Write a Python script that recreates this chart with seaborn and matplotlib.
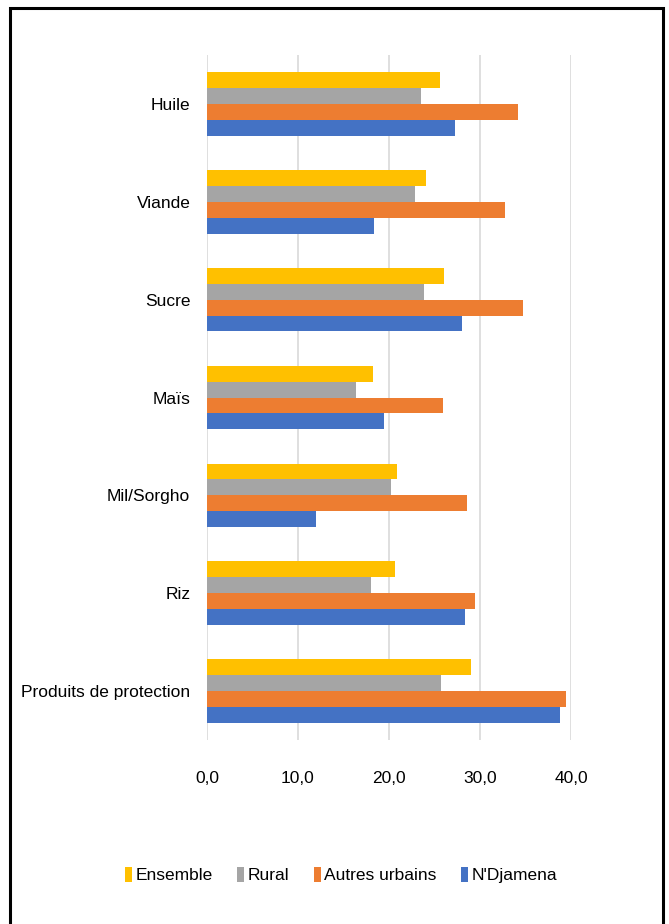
import matplotlib
matplotlib.use("Agg")
import matplotlib.pyplot as plt
from matplotlib.patches import Patch, Rectangle
import seaborn as sns
import pandas as pd

# Data (values in %)
products = ["Huile", "Viande", "Sucre", "Maïs", "Mil/Sorgho", "Riz", "Produits de protection"]
series = ["Ensemble", "Rural", "Autres urbains", "N'Djamena"]
ensemble = [25.6, 24.1, 26.0, 18.2, 20.9, 20.7, 29.0]
rural = [23.5, 22.9, 23.9, 16.4, 20.2, 18.0, 25.7]
autres_urbains = [34.2, 32.7, 34.7, 25.9, 28.6, 29.5, 39.4]
ndjamena = [27.3, 18.4, 28.0, 19.5, 12.0, 28.4, 38.8]
colors = ["#FFC000", "#A5A5A5", "#ED7D31", "#4472C4"]
xticks = [0, 10, 20, 30, 40]

rows = []
for name, vals in zip(series, [ensemble, rural, autres_urbains, ndjamena]):
    for prod, v in zip(products, vals):
        rows.append({"produit": prod, "zone": name, "valeur": v})
df = pd.DataFrame(rows)

sns.set_style("white")
plt.rcParams["font.family"] = ["Liberation Sans", "DejaVu Sans"]
plt.rcParams["text.color"] = "black"
plt.rcParams["xtick.color"] = "black"
plt.rcParams["ytick.color"] = "black"

fs = 12.5

fig = plt.figure(figsize=(6.69, 9.24), dpi=100)
ax = fig.add_axes([207 / 669, 1 - 740 / 924, 364 / 669, 685 / 924])

sns.barplot(data=df, x="valeur", y="produit", hue="zone", order=products,
            hue_order=series, palette=colors, orient="h", width=0.65, gap=0,
            saturation=1, ax=ax, legend=False, linewidth=0)

ax.set_xlim(0, 40)
ax.set_xticks(xticks)
ax.set_xticklabels([f"{t:.1f}".replace(".", ",") for t in xticks], fontsize=fs)
ax.tick_params(axis="x", length=0, pad=22)
ax.tick_params(axis="y", length=0, pad=12, labelsize=fs)
ax.set_xlabel("")
ax.set_ylabel("")
ax.grid(axis="x", color="#D9D9D9", linewidth=1.2)
ax.set_axisbelow(True)
for s in ax.spines.values():
    s.set_visible(False)

handles = [Patch(facecolor=c, edgecolor="none") for c in colors]
fig.legend(handles, series, loc="center", bbox_to_anchor=(0.51, 1 - 875 / 924),
           ncol=4, frameon=False, fontsize=fs, handlelength=0.4, handleheight=1.0,
           handletextpad=0.2, columnspacing=1.4)

# Outer frame as in the source image
fig.patches.append(Rectangle((10 / 669, -0.01), 653 / 669, 1 - 8 / 924 + 0.01,
                             transform=fig.transFigure, fill=False,
                             edgecolor="black", linewidth=2.2))

fig.savefig("out.png", dpi=100)
